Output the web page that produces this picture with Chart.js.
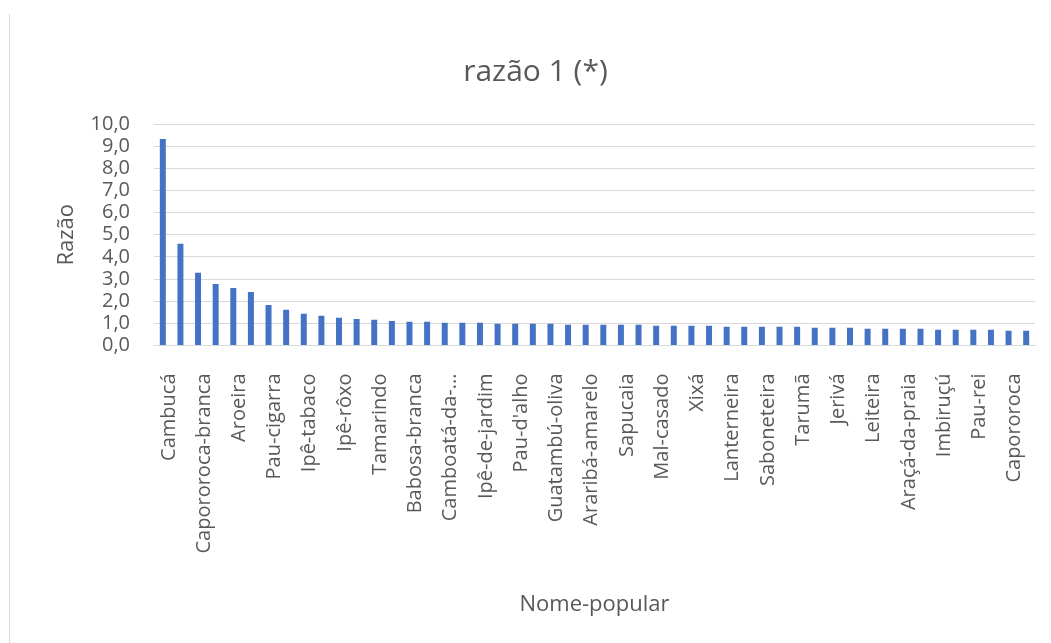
<!DOCTYPE html>
<html lang="pt-BR">
<head>
<meta charset="utf-8">
<title>razão 1 (*)</title>
<script src="https://cdn.jsdelivr.net/npm/chart.js@4.4.1/dist/chart.umd.min.js"></script>
<style>
  html, body { margin: 0; padding: 0; background: #fff; }
  .chart-wrap { position: relative; width: 1051px; height: 643px; }
  .chart-wrap::before {
    content: ''; position: absolute; left: 9px; top: 14px; bottom: 0;
    border-left: 1px solid #d9d9d9;
  }
</style>
</head>
<body>
<div class="chart-wrap"><canvas id="razaoChart" width="1051" height="643"></canvas></div>
<script>
  // Nome popular – only every other label is shown in the original (the rest are hidden)
  const nomes = [
    'Cambucá', '', 'Capororoca-branca', '', 'Aroeira', '', 'Pau-cigarra', '', 'Ipê-tabaco', '',
    'Ipê-rôxo', '', 'Tamarindo', '', 'Babosa-branca', '', 'Camboatá-da-...', '', 'Ipê-de-jardim', '',
    "Pau-d'alho", '', 'Guatambú-oliva', '', 'Araribá-amarelo', '', 'Sapucaia', '', 'Mal-casado', '',
    'Xixá', '', 'Lanterneira', '', 'Saboneteira', '', 'Tarumã', '', 'Jerivá', '',
    'Leiteira', '', 'Araçá-da-praia', '', 'Imbiruçú', '', 'Pau-rei', '', 'Capororoca', '',
  ];

  const razao = [
    9.32, 4.59, 3.28, 2.78, 2.60, 2.42, 1.83, 1.61, 1.43, 1.34,
    1.25, 1.20, 1.16, 1.11, 1.07, 1.07, 1.03, 1.03, 1.03, 0.98,
    0.98, 0.98, 0.98, 0.94, 0.94, 0.94, 0.94, 0.94, 0.89, 0.89,
    0.89, 0.89, 0.85, 0.85, 0.85, 0.85, 0.85, 0.80, 0.80, 0.80,
    0.76, 0.76, 0.76, 0.76, 0.71, 0.71, 0.71, 0.71, 0.67, 0.67,
  ];

  const yTicks = [0, 1, 2, 3, 4, 5, 6, 7, 8, 9, 10];

  const TEXT = '#595959';
  const GRID = '#d9d9d9';
  const FONT = "'Open Sans', 'DejaVu Sans', sans-serif";

  const fmt = v => Number(v).toFixed(1).replace('.', ',');

  new Chart(document.getElementById('razaoChart'), {
    type: 'bar',
    data: {
      labels: nomes,
      datasets: [{
        label: 'razão 1 (*)',
        data: razao,
        backgroundColor: '#4472c4',
        borderWidth: 0,
        categoryPercentage: 1,
        barPercentage: 0.34,
      }],
    },
    options: {
      responsive: false,
      animation: false,
      layout: { padding: { left: 36, right: 16, top: 0, bottom: 0 } },
      plugins: {
        legend: { display: false },
        tooltip: { enabled: false },
        title: {
          display: true,
          text: 'razão 1 (*)',
          color: TEXT,
          font: { family: FONT, size: 30, weight: 'normal', lineHeight: 1.2 },
          padding: { top: 54, bottom: 34 },
        },
      },
      scales: {
        x: {
          grid: { display: false },
          border: { display: true, color: GRID, width: 1 },
          ticks: {
            autoSkip: false,
            minRotation: 90,
            maxRotation: 90,
            padding: 20,
            labelOffset: 6,
            color: TEXT,
            font: { family: FONT, size: 20 },
          },
          title: {
            display: true,
            text: 'Nome-popular',
            color: TEXT,
            font: { family: FONT, size: 22 },
            padding: { top: 0, bottom: 25 },
          },
          afterFit: scale => {
            scale.height = 297.5;
            scale.paddingLeft = 0;
            scale.paddingRight = 0;
          },
        },
        y: {
          min: 0,
          max: 10,
          afterBuildTicks: scale => { scale.ticks = yTicks.map(v => ({ value: v })); },
          grid: { color: GRID, lineWidth: 1, drawTicks: false },
          border: { display: false },
          ticks: {
            autoSkip: false,
            padding: 24,
            color: TEXT,
            font: { family: FONT, size: 20, lineHeight: 1 },
            callback: v => fmt(v),
          },
          title: {
            display: true,
            text: 'Razão',
            color: TEXT,
            font: { family: FONT, size: 22 },
            padding: { top: 18, bottom: 0 },
          },
          afterFit: scale => { scale.width = 118; },
        },
      },
    },
  });
</script>
</body>
</html>
